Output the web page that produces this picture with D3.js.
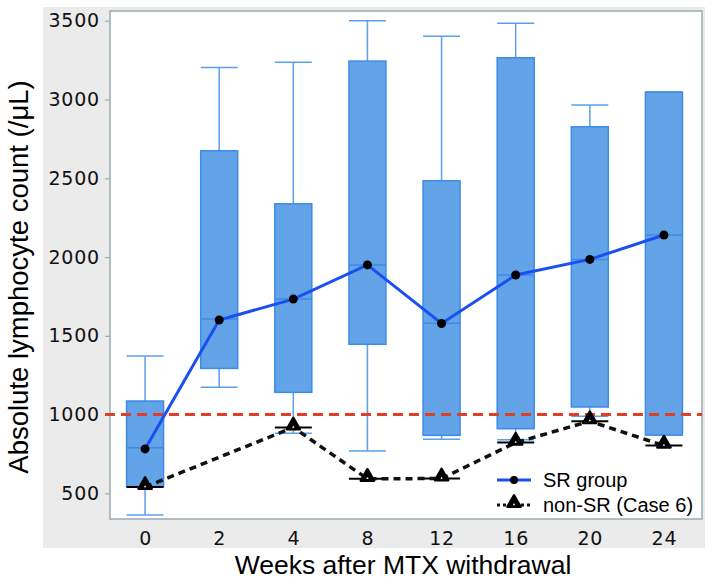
<!DOCTYPE html>
<html><head><meta charset="utf-8">
<script src="https://cdn.jsdelivr.net/npm/d3@7"></script>
<style>body{margin:0;background:#fff}svg{display:block}</style>
</head><body>
<svg id="c" width="713" height="586"></svg>
<script>
const weeks = ["0","2","4","8","12","16","20","24"];
const whiskerLow  = [362, 1173, 881, 769, 843, 840, 990, 870];
const boxLow      = [542, 1293, 1141, 1446, 868, 910, 1048, 870];
const medians     = [789, 1606, 1733, 1949, 1579, 1886, 1985, 2140];
const boxHigh     = [1086, 2675, 2338, 3244, 2484, 3265, 2827, 3047];
const whiskerHigh = [1372, 3204, 3236, 3500, 3401, 3484, 2965, 3047];
const srMeans     = [782, 1600, 1733, 1950, 1578, 1886, 1985, 2140];
const nonSR       = [540, 918, 592, 594, 822, 958, 803];
const nonSRWeeks  = ["0","4","8","12","16","20","24"];
const yTicks = [500, 1000, 1500, 2000, 2500, 3000, 3500];
const threshold = 1000;

const TICKFONT = "DejaVu Sans, Verdana, sans-serif";
const LABFONT = "Liberation Sans, Arial, sans-serif";

const svg = d3.select("#c");
const L = 110, R = 702, T = 11, B = 519;
svg.append("rect").attr("x",43).attr("y",7).attr("width",662).attr("height",541).attr("fill","#ebebeb");
svg.append("rect").attr("x",L).attr("y",T).attr("width",R-L).attr("height",B-T).attr("fill","#fff").attr("stroke","#9aaab0").attr("stroke-width",1.5);

const x = d3.scalePoint().domain(weeks).range([108, 701]).padding(0.5);
const y = d3.scaleLinear().domain([337, 3562]).range([B, T]);
const bw = 37;

// y axis
const ya = svg.append("g").attr("transform",`translate(${L},0)`).call(d3.axisLeft(y).tickValues(yTicks).tickSize(5).tickPadding(5).tickFormat(d3.format("d")));
ya.select(".domain").remove();
ya.selectAll("line").attr("stroke","#9aaab0").attr("stroke-width",1.2);
ya.selectAll("text").style("font-family",TICKFONT).style("font-size","19px").style("letter-spacing","0.8px").attr("fill","#111");

const xa = svg.append("g").attr("transform",`translate(0,${B})`).call(d3.axisBottom(x).tickSize(0).tickPadding(13));
xa.select(".domain").remove();
xa.selectAll("text").style("font-family",TICKFONT).style("font-size","19px").style("letter-spacing","0.8px").attr("fill","#111");

// boxes
const g = svg.append("g");
weeks.forEach((w,i)=>{
  const cx = x(w);
  const wc = "#5a9fee";
  g.append("line").attr("x1",cx).attr("x2",cx).attr("y1",y(whiskerHigh[i])).attr("y2",y(boxHigh[i])).attr("stroke",wc).attr("stroke-width",1.5);
  g.append("line").attr("x1",cx).attr("x2",cx).attr("y1",y(whiskerLow[i])).attr("y2",y(boxLow[i])).attr("stroke",wc).attr("stroke-width",1.5);
  g.append("line").attr("x1",cx-bw/2).attr("x2",cx+bw/2).attr("y1",y(whiskerHigh[i])).attr("y2",y(whiskerHigh[i])).attr("stroke",wc).attr("stroke-width",1.5);
  g.append("line").attr("x1",cx-bw/2).attr("x2",cx+bw/2).attr("y1",y(whiskerLow[i])).attr("y2",y(whiskerLow[i])).attr("stroke",wc).attr("stroke-width",1.5);
  g.append("rect").attr("x",cx-bw/2).attr("y",y(boxHigh[i])).attr("width",bw).attr("height",y(boxLow[i])-y(boxHigh[i]))
    .attr("fill","#63a4e8").attr("stroke","#3d8be6").attr("stroke-width",1.5);
  g.append("line").attr("x1",cx-bw/2).attr("x2",cx+bw/2).attr("y1",y(medians[i])).attr("y2",y(medians[i])).attr("stroke","#3d8be6").attr("stroke-width",1.5);
});

// threshold
svg.append("line").attr("x1",L-5).attr("x2",R).attr("y1",y(threshold)).attr("y2",y(threshold))
  .attr("stroke","#e0402a").attr("stroke-width",3).attr("stroke-dasharray","10,6");

// non-SR
const ns = nonSRWeeks.map((w,i)=>[x(w), y(nonSR[i])]);
nonSRWeeks.forEach((w,i)=>{
  svg.append("line").attr("x1",x(w)-bw/2).attr("x2",x(w)+bw/2).attr("y1",y(nonSR[i])).attr("y2",y(nonSR[i])).attr("stroke","#000").attr("stroke-width",2);
});
svg.append("path").attr("d",d3.line()(ns)).attr("fill","none").attr("stroke","#111").attr("stroke-width",3.5).attr("stroke-dasharray","7,5");
const tri = d3.symbol().type(d3.symbolTriangle).size(75);
const triIn = d3.symbol().type(d3.symbolTriangle).size(2.5);
function drawTri(cx, cy){
  svg.append("path").attr("d",tri()).attr("transform",`translate(${cx},${cy})`).attr("fill","#000").attr("stroke","#000").attr("stroke-width",2.5).attr("stroke-linejoin","round");
  svg.append("path").attr("d",triIn()).attr("transform",`translate(${cx},${cy+1.5})`).attr("fill","#fff");
}
ns.forEach(p=>drawTri(p[0], p[1]-2));

// SR
const sr = weeks.map((w,i)=>[x(w), y(srMeans[i])]);
svg.append("path").attr("d",d3.line()(sr)).attr("fill","none").attr("stroke","#1a4ff0").attr("stroke-width",3);
sr.forEach(p=>svg.append("circle").attr("cx",p[0]).attr("cy",p[1]).attr("r",4.5).attr("fill","#000"));

// legend
const lg = svg.append("g");
lg.append("line").attr("x1",497).attr("x2",531).attr("y1",480).attr("y2",480).attr("stroke","#1a4ff0").attr("stroke-width",3);
lg.append("circle").attr("cx",514).attr("cy",480).attr("r",4).attr("fill","#000");
lg.append("text").attr("x",543).attr("y",487).style("font-size","20px").style("font-family",LABFONT).text("SR group");
lg.append("line").attr("x1",497).attr("x2",531).attr("y1",505).attr("y2",505).attr("stroke","#111").attr("stroke-width",3).attr("stroke-dasharray","3,3");
drawTri(514, 503);
lg.append("text").attr("x",543).attr("y",512).style("font-size","20px").style("font-family",LABFONT).text("non-SR (Case 6)");

// axis titles
svg.append("text").attr("x",403).attr("y",574).attr("text-anchor","middle").style("font-size","26.5px").style("font-family",LABFONT).text("Weeks after MTX withdrawal");
svg.append("text").attr("transform","translate(28,277) rotate(-90)").attr("text-anchor","middle").style("font-size","27.5px").style("font-family",LABFONT).text("Absolute lymphocyte count (/μL)");
</script>
</body></html>
